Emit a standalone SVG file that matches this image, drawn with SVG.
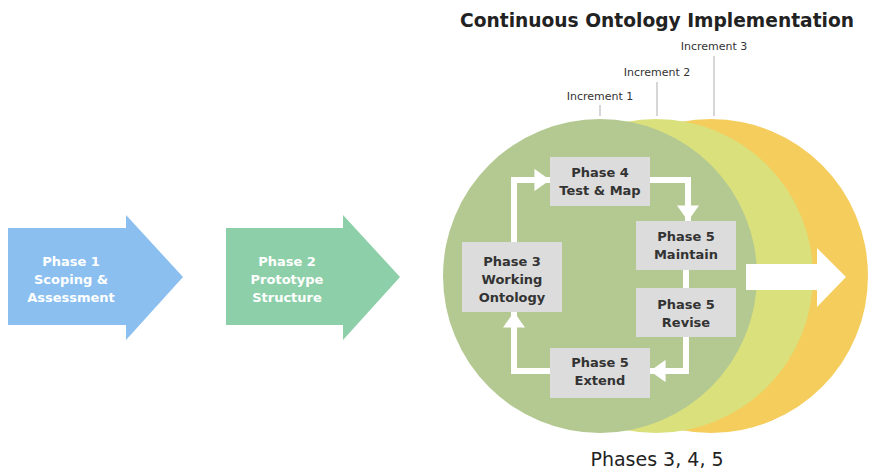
<svg xmlns="http://www.w3.org/2000/svg" width="869" height="473" viewBox="0 0 869 473">
<defs>
<style>
text{font-family:"DejaVu Sans","Liberation Sans",sans-serif;text-anchor:middle}
.w{fill:#ffffff;font-size:13px;font-weight:bold}
.b{fill:#333333;font-size:13px;font-weight:bold}
.box{fill:#dcdcdc}
.inc{fill:#333333;font-size:11px}
.tick{stroke:#c8c8c8;stroke-width:1.5}
.conn{fill:none;stroke:#ffffff;stroke-width:6}
</style>
<marker id="ah" viewBox="0 0 7 10" refX="7" refY="5" markerWidth="2.6" markerHeight="3.7" markerUnits="strokeWidth" orient="auto"><path d="M0,0 L7,5 L0,10 Z" fill="#ffffff"/></marker>
</defs>
<rect width="869" height="473" fill="#ffffff"/>
<text x="657" y="27" style="font-size:19px;font-weight:bold;fill:#222" textLength="394" lengthAdjust="spacingAndGlyphs">Continuous Ontology Implementation</text>
<g id="increments">
<line class="tick" x1="714" y1="56" x2="714" y2="116"/>
<line class="tick" x1="657" y1="82" x2="657" y2="116"/>
<line class="tick" x1="600" y1="105" x2="600" y2="116"/>
<text class="inc" x="714" y="50">Increment 3</text>
<text class="inc" x="657" y="76">Increment 2</text>
<text class="inc" x="600" y="100">Increment 1</text>
</g>
<g id="circles">
<circle cx="711" cy="276" r="157" fill="#f5cd5c"/>
<circle cx="656" cy="276" r="157" fill="#d9e07c"/>
<circle cx="600" cy="276" r="157" fill="#b3c991"/>
</g>
<g id="out-arrow"><path d="M746,264 L817,264 L817,248 L846,277 L817,307 L817,290 L746,290 Z" fill="#ffffff"/></g>
<g id="phase1"><path d="M8,228 L126,228 L126,215 L183,277 L126,340 L126,325 L8,325 Z" fill="#8bbff0"/>
<text class="w" x="71" y="266">Phase 1</text><text class="w" x="71" y="284">Scoping &amp;</text><text class="w" x="71" y="302">Assessment</text></g>
<g id="phase2"><path d="M226,228 L343,228 L343,215 L400,277 L343,340 L343,325 L226,325 Z" fill="#8dcfa9"/>
<text class="w" x="287" y="266">Phase 2</text><text class="w" x="287" y="284">Prototype</text><text class="w" x="287" y="302">Structure</text></g>
<g id="connectors">
<path class="conn" d="M514,242 L514,180 L550,180" marker-end="url(#ah)"/>
<path class="conn" d="M650,180 L688,180 L688,221" marker-end="url(#ah)"/>
<path class="conn" d="M686,270 L686,288"/>
<path class="conn" d="M686,337 L686,371 L650,371" marker-end="url(#ah)"/>
<path class="conn" d="M550,371 L514,371 L514,312" marker-end="url(#ah)"/>
</g>
<g id="phase4"><rect class="box" x="550" y="157" width="100" height="49"/><text class="b" x="600" y="177">Phase 4</text><text class="b" x="600" y="195">Test &amp; Map</text></g>
<g id="phase5-maintain"><rect class="box" x="636" y="221" width="100" height="49"/><text class="b" x="686" y="241">Phase 5</text><text class="b" x="686" y="259">Maintain</text></g>
<g id="phase5-revise"><rect class="box" x="636" y="288" width="100" height="49"/><text class="b" x="686" y="309">Phase 5</text><text class="b" x="686" y="327">Revise</text></g>
<g id="phase5-extend"><rect class="box" x="550" y="348" width="100" height="50"/><text class="b" x="600" y="367">Phase 5</text><text class="b" x="600" y="385">Extend</text></g>
<g id="phase3"><rect class="box" x="462" y="242" width="100" height="70"/><text class="b" x="512" y="266">Phase 3</text><text class="b" x="512" y="284">Working</text><text class="b" x="512" y="302">Ontology</text></g>
<text x="657" y="466" style="font-size:19px;fill:#222">Phases 3, 4, 5</text>
</svg>
